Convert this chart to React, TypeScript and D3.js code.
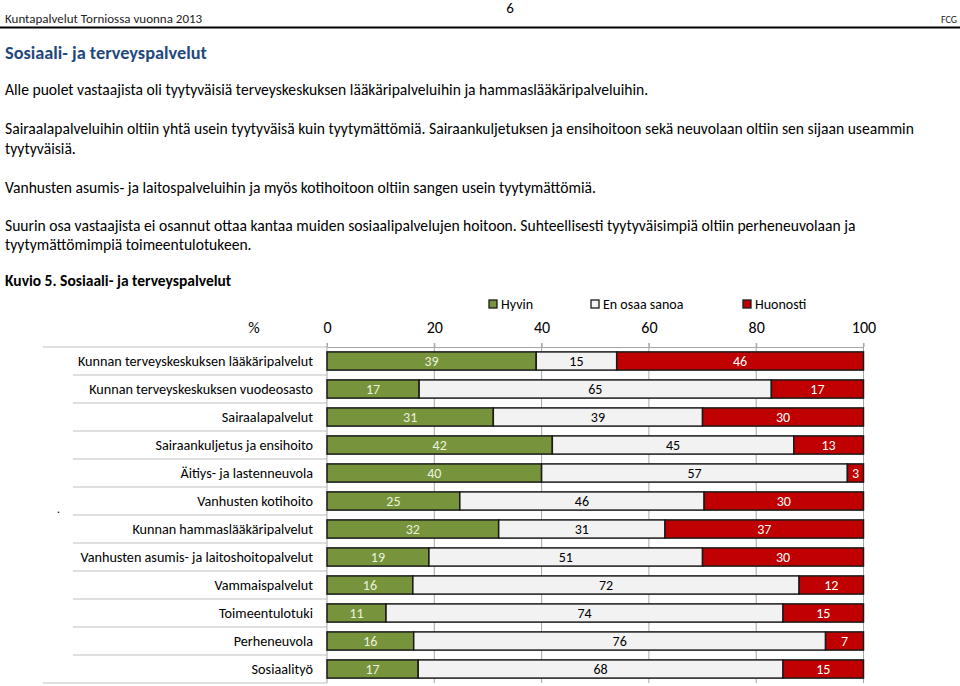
import React, { useRef, useEffect } from 'react';
import * as d3 from 'd3';

const categories = [
  'Kunnan terveyskeskuksen lääkäripalvelut',
  'Kunnan terveyskeskuksen vuodeosasto',
  'Sairaalapalvelut',
  'Sairaankuljetus ja ensihoito',
  'Äitiys- ja lastenneuvola',
  'Vanhusten kotihoito',
  'Kunnan hammaslääkäripalvelut',
  'Vanhusten asumis- ja laitoshoitopalvelut',
  'Vammaispalvelut',
  'Toimeentulotuki',
  'Perheneuvola',
  'Sosiaalityö',
];
const hyvin = [39, 17, 31, 42, 40, 25, 32, 19, 16, 11, 16, 17];
const enOsaaSanoa = [15, 65, 39, 45, 57, 46, 31, 51, 72, 74, 76, 68];
const huonosti = [46, 17, 30, 13, 3, 30, 37, 30, 12, 15, 7, 15];
const seriesNames = ['Hyvin', 'En osaa sanoa', 'Huonosti'];
const xTicks = [0, 20, 40, 60, 80, 100];

const paragraphs = [
  'Alle puolet vastaajista oli tyytyväisiä terveyskeskuksen lääkäripalveluihin ja hammaslääkäripalveluihin.',
  'Sairaalapalveluihin oltiin yhtä usein tyytyväisä kuin tyytymättömiä. Sairaankuljetuksen ja ensihoitoon sekä neuvolaan oltiin sen sijaan useammin',
  'tyytyväisiä.',
  'Vanhusten asumis- ja laitospalveluihin ja myös kotihoitoon oltiin sangen usein tyytymättömiä.',
  'Suurin osa vastaajista ei osannut ottaa kantaa muiden sosiaalipalvelujen hoitoon. Suhteellisesti tyytyväisimpiä oltiin perheneuvolaan ja',
  'tyytymättömimpiä toimeentulotukeen.',
];
const paragraphY = [89, 128, 148, 187, 225, 244];

const FONT = "Carlito, Lato, 'Open Sans', sans-serif";

export default function App() {
  const svgRef = useRef<SVGSVGElement>(null);

  useEffect(() => {
    document.body.style.margin = '0';
    if (!svgRef.current) return;
    const svg = d3.select(svgRef.current);
    svg.selectAll('*').remove();

    const width = 960;
    const height = 686;
    svg.attr('width', width).attr('height', height).style('font-family', FONT);
    svg.append('rect').attr('width', width).attr('height', height).attr('fill', '#fff');

    // page header
    svg.append('text').attr('x', 510).attr('y', 8).attr('dominant-baseline', 'central')
      .attr('text-anchor', 'middle').style('font-size', '15px').text('6');
    svg.append('text').attr('x', 5).attr('y', 18).attr('dominant-baseline', 'central')
      .style('font-size', '13px').attr('fill', '#222').text('Kuntapalvelut Torniossa vuonna 2013');
    svg.append('text').attr('x', 957).attr('y', 19).attr('dominant-baseline', 'central')
      .attr('text-anchor', 'end').style('font-size', '10px').attr('fill', '#222').text('FCG');
    svg.append('line').attr('x1', 0).attr('x2', width).attr('y1', 27.5).attr('y2', 27.5)
      .attr('stroke', '#000').attr('stroke-width', 2);

    svg.append('text').attr('x', 5).attr('y', 53).attr('dominant-baseline', 'central')
      .style('font-size', '18.3px').style('font-weight', 'bold').attr('fill', '#1F497D')
      .text('Sosiaali- ja terveyspalvelut');

    svg.append('g').selectAll('text').data(paragraphs).enter().append('text')
      .attr('x', 5).attr('y', (d, i) => paragraphY[i]).attr('dominant-baseline', 'central')
      .style('font-size', '15.6px').attr('fill', '#000').text(d => d);

    svg.append('text').attr('x', 5).attr('y', 280).attr('dominant-baseline', 'central')
      .style('font-size', '15.5px').style('font-weight', 'bold').text('Kuvio 5. Sosiaali- ja terveyspalvelut');

    // chart
    const x = d3.scaleLinear().domain([0, 100]).range([327, 863.5]);
    const y = d3.scaleBand().domain(categories).range([347, 683]).paddingInner(0.35).paddingOuter(0.175);
    const top = 347;
    const bottom = 683;

    const rows = categories.map((c, i) => ({
      cat: c, 'Hyvin': hyvin[i], 'En osaa sanoa': enOsaaSanoa[i], 'Huonosti': huonosti[i],
    }));
    // rounded shares don't always add to 100, so stretch each row to full width
    const stack = d3.stack<any>().keys(seriesNames).offset(d3.stackOffsetExpand);
    const layers = stack(rows);
    const color = d3.scaleOrdinal<string>().domain(seriesNames).range(['#77933C', '#F2F2F2', '#C00000']);
    const labelColor = d3.scaleOrdinal<string>().domain(seriesNames).range(['#EBF1DE', '#000', '#fff']);

    // grid lines
    svg.append('g').selectAll('line').data(xTicks.slice(1)).enter().append('line')
      .attr('x1', d => x(d)).attr('x2', d => x(d)).attr('y1', top - 4).attr('y2', bottom)
      .attr('stroke', '#A6A6A6').attr('stroke-width', 1);

    // top axis
    svg.append('g').attr('transform', `translate(0,${top})`)
      .call(d3.axisTop(x).tickValues(xTicks).tickSize(4).tickSizeOuter(0))
      .call(g => g.select('.domain').attr('stroke', '#A6A6A6'))
      .call(g => g.selectAll('.tick line').attr('stroke', '#A6A6A6'))
      .call(g => g.selectAll('.tick text').attr('y', -20).attr('dy', '0.35em')
        .attr('fill', '#000').style('font-size', '16px').style('font-family', FONT));
    svg.append('text').attr('x', 254).attr('y', 327).attr('dominant-baseline', 'central')
      .attr('text-anchor', 'middle').style('font-size', '16px').text('%');

    // category separator lines
    const seps = d3.range(categories.length + 1);
    svg.append('g').selectAll('line').data(seps).enter().append('line')
      .attr('x1', d => (d === 0 || d === categories.length ? 43 : 73)).attr('x2', 327)
      .attr('y1', d => top + d * y.step()).attr('y2', d => top + d * y.step())
      .attr('stroke', '#BFBFBF').attr('stroke-width', 1.2);
    svg.append('line').attr('x1', 327).attr('x2', 327).attr('y1', top - 4).attr('y2', bottom)
      .attr('stroke', '#A6A6A6');

    // category labels
    svg.append('g').selectAll('text').data(categories).enter().append('text')
      .attr('x', 313).attr('y', d => (y(d) || 0) + y.bandwidth() / 2).attr('dominant-baseline', 'central')
      .attr('text-anchor', 'end').style('font-size', '14.2px').text(d => d);
    svg.append('text').attr('x', 57).attr('y', 513).style('font-size', '12px').text('.');

    // bars
    layers.forEach(layer => {
      const g = svg.append('g');
      g.selectAll('rect').data(layer).enter().append('rect')
        .attr('x', d => x(d[0] * 100)).attr('y', d => y(d.data.cat) || 0)
        .attr('width', d => x(d[1] * 100) - x(d[0] * 100)).attr('height', y.bandwidth())
        .attr('fill', color(layer.key)).attr('stroke', '#1a1a1a').attr('stroke-width', 1.5);
      g.selectAll('text').data(layer).enter().append('text')
        .attr('x', d => (x(d[0] * 100) + x(d[1] * 100)) / 2)
        .attr('y', d => (y(d.data.cat) || 0) + y.bandwidth() / 2)
        .attr('dominant-baseline', 'central').attr('text-anchor', 'middle')
        .attr('fill', labelColor(layer.key)).style('font-size', '14px')
        .text(d => d.data[layer.key]);
    });

    // legend
    const legendX = [489, 591, 743];
    const lg = svg.append('g').selectAll('g').data(seriesNames).enter().append('g')
      .attr('transform', (d, i) => `translate(${legendX[i]},300)`);
    lg.append('rect').attr('width', 8).attr('height', 8).attr('fill', d => color(d))
      .attr('stroke', '#1a1a1a').attr('stroke-width', 1.3);
    lg.append('text').attr('x', 12).attr('y', 4).attr('dominant-baseline', 'central')
      .style('font-size', '14px').text(d => d);
  }, []);

  return <svg ref={svgRef} style={{ display: 'block' }} />;
}
